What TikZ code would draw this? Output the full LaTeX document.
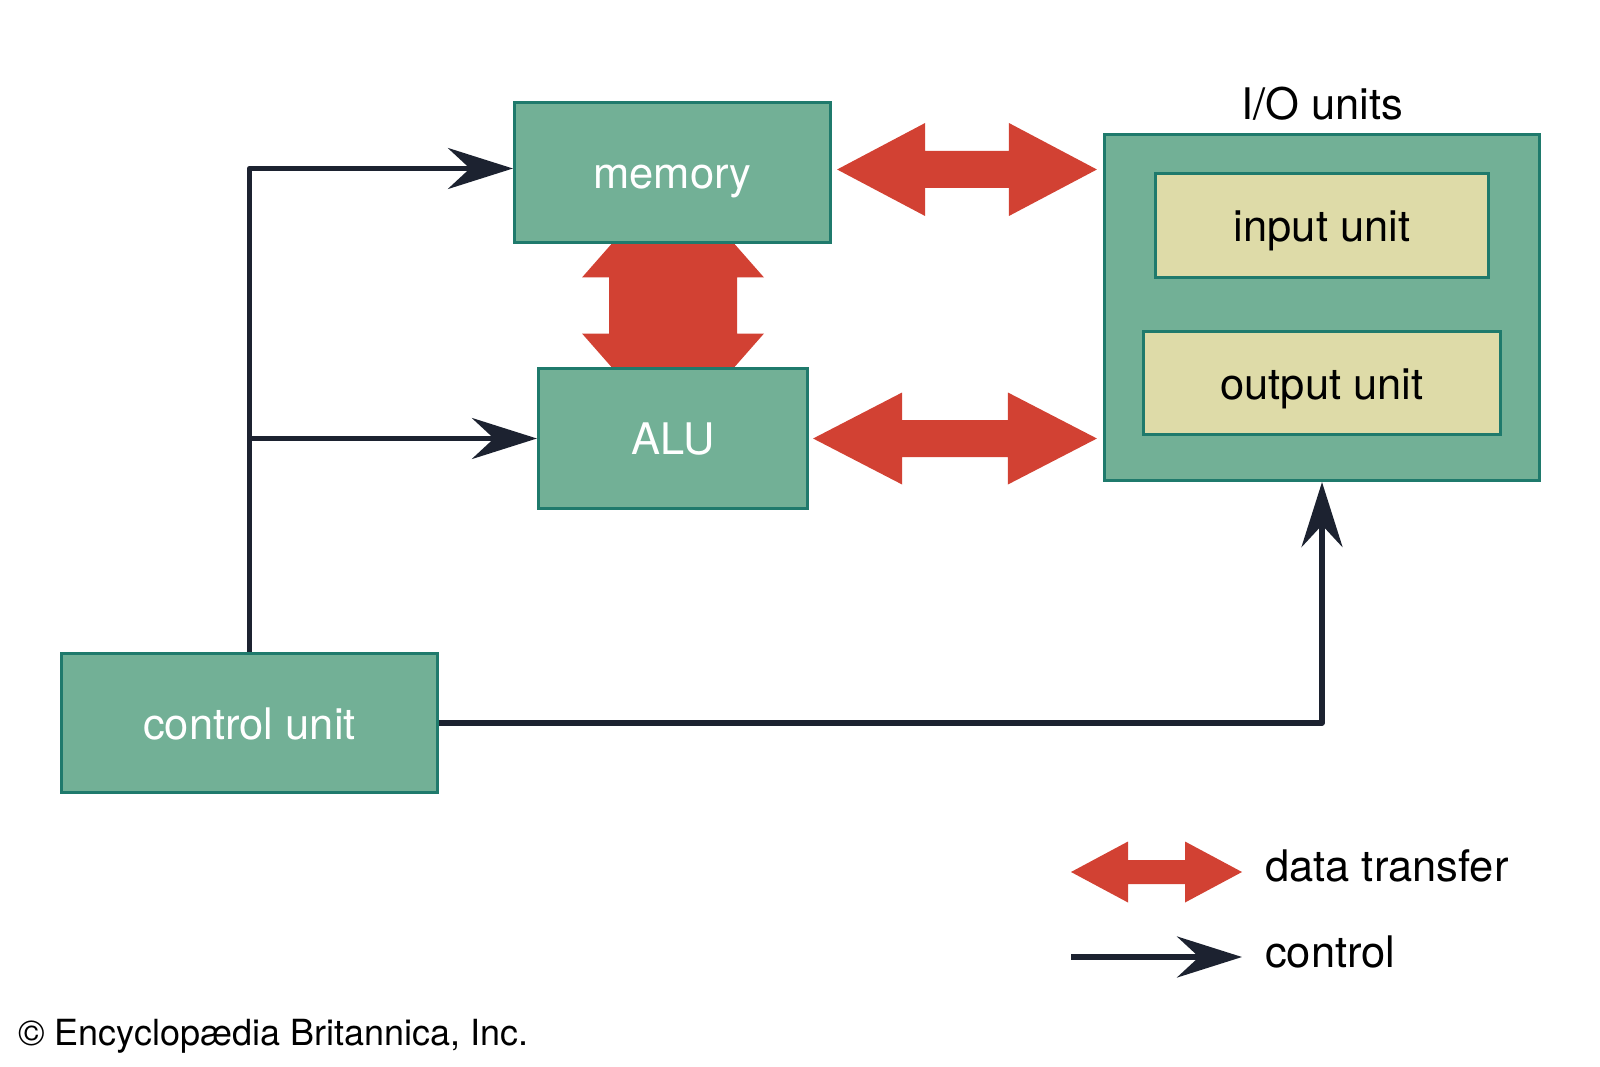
\documentclass[tikz,border=0pt]{standalone}
\usepackage{fontspec}
\setmainfont{TeX Gyre Heros}
\usetikzlibrary{arrows.meta,calc}
\definecolor{boxgreen}{HTML}{72B096}
\definecolor{boxedge}{HTML}{1F7A6C}
\definecolor{boxyellow}{HTML}{DEDBA8}
\definecolor{datared}{HTML}{D24133}
\definecolor{ctrldark}{HTML}{1C2230}
\newcommand\hdbl[5]{%
  \fill[datared] let \p1=(#1), \p2=(#2) in
    (\x1,\y1) -- (\x1+#3,\y1+#4) -- (\x1+#3,\y1+#5) -- (\x2-#3,\y1+#5) --
    (\x2-#3,\y1+#4) -- (\x2,\y1) -- (\x2-#3,\y1-#4) -- (\x2-#3,\y1-#5) --
    (\x1+#3,\y1-#5) -- (\x1+#3,\y1-#4) -- cycle;}
\newcommand\vdbl[5]{%
  \fill[datared] let \p1=(#1), \p2=(#2) in
    (\x1,\y1) -- (\x1+#4,\y1-#3) -- (\x1+#5,\y1-#3) -- (\x1+#5,\y2+#3) --
    (\x1+#4,\y2+#3) -- (\x1,\y2) -- (\x1-#4,\y2+#3) -- (\x1-#5,\y2+#3) --
    (\x1-#5,\y1-#3) -- (\x1-#4,\y1-#3) -- cycle;}
\begin{document}
\begin{tikzpicture}[x=1pt,y=-1pt,
  unitbox/.style={draw=boxedge,line width=3.2pt,fill=boxgreen,text=white,
    font=\fontsize{43.5}{52}\selectfont,text height=32pt,text depth=0pt,inner sep=0pt},
  subbox/.style={unitbox,fill=boxyellow,text=black},
  ctrl/.style={draw=ctrldark,line width=5.5pt,line join=round,
    -{Stealth[length=65pt,width=41pt,inset=22pt]}},
  lbl/.style={font=\fontsize{43.5}{52}\selectfont,text=black,inner sep=0pt}]
\useasboundingbox (0,0) rectangle (1600,1067);
% vertical data arrow (behind boxes)
\coordinate (vt) at (673,174);
\coordinate (vb) at (673,437);
\vdbl{vt}{vb}{103.5pt}{91pt}{64pt}
% boxes
\node[unitbox,minimum width=316pt,minimum height=140pt] (mem) at (672.5,172.5) {memory};
\node[unitbox,minimum width=269pt,minimum height=140pt] (alu) at (673,438.5) {ALU};
\node[unitbox,minimum width=376pt,minimum height=139pt] (cu) at (249.5,723) {control unit};
\node[unitbox,minimum width=435pt,minimum height=346pt] (io) at (1322,307.5) {};
\node[subbox,minimum width=333pt,minimum height=104pt] (in) at (1322,225.5) {input unit};
\node[subbox,minimum width=357pt,minimum height=103pt] (out) at (1322,383) {output unit};
\node[lbl] (iol) at (1322,104) {I/O units};
% horizontal data arrows
\coordinate (t1) at ($(mem.east)+(5,-3)$);
\coordinate (t2) at ($(io.west)+(-6,0)$);
\hdbl{t1}{t2}{88pt}{46.5pt}{18.5pt}
\coordinate (b1) at ($(alu.east)+(4,0)$);
\coordinate (b2) at ($(io.west)+(-6,0)$);
\hdbl{b1}{b2}{89pt}{46pt}{18.5pt}
% control connectors
\draw[ctrl] (cu.north) |- ([yshift=4pt]mem.west);
\draw[ctrl] (cu.north |- alu.west) -- (alu.west);
\draw[ctrl] (cu.east) -| (io.south);
% legend
\coordinate (lg1) at (1071,872);
\coordinate (lg2) at (1242,872);
\hdbl{lg1}{lg2}{57pt}{30.5pt}{12pt}
\coordinate (lc1) at (1071,957);
\coordinate (lc2) at (1242,957);
\draw[ctrl] (lc1) -- (lc2);
\node[lbl,anchor=base west] (ldt) at (1265,881) {data transfer};
\node[lbl,anchor=base west] (lct) at (1265,967) {control};
\node[lbl,anchor=base west,font=\fontsize{36}{43}\selectfont] (copy) at (18,1045) {© Encyclopædia Britannica, Inc.};
\end{tikzpicture}
\end{document}
